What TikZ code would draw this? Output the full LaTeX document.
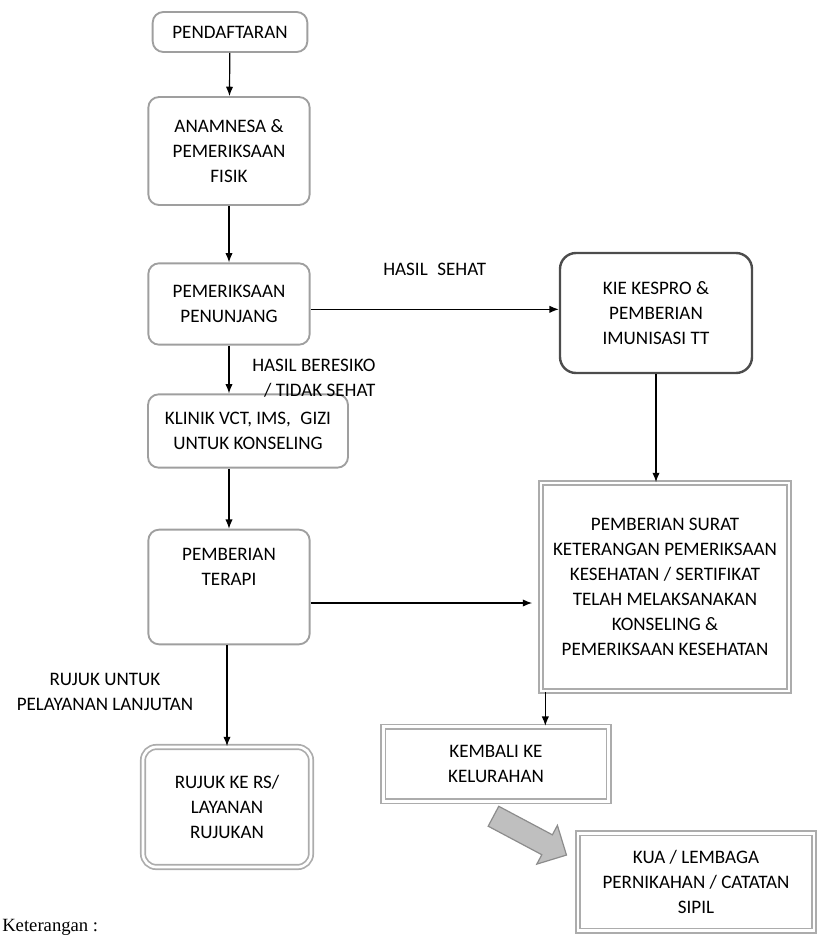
\documentclass[tikz,border=0pt]{standalone}
\usepackage{fontspec}
\setmainfont{Carlito}
\newfontfamily\notefont{Liberation Serif}
\usetikzlibrary{arrows.meta,shapes.arrows}

\begin{document}
\begin{tikzpicture}[x=0.75pt, y=-0.75pt,
    >={Latex[length=7pt,width=5.5pt]},
    every node/.style={font=\fontsize{14.3}{18.7}\selectfont},
    rbox/.style={rectangle, draw=gray!75, line width=1.4pt, rounded corners=8pt, align=center, inner sep=2pt},
    kbox/.style={rbox, draw=black!70, line width=1.8pt, rounded corners=12pt},
    dbox/.style={rectangle, draw=gray!65, double=white, double distance=2pt, line width=1.3pt, align=center, inner sep=2pt},
    lbl/.style={inner sep=1pt}]
    \useasboundingbox (0,0) rectangle (819,935);

    \node[rbox, minimum width=116pt, minimum height=30pt] (daftar) at (230,32) {PENDAFTARAN};
    \node[rbox, minimum width=121pt, minimum height=81pt] (anam) at (229,151) {ANAMNESA \&\\PEMERIKSAAN\\FISIK};
    \node[rbox, minimum width=121pt, minimum height=61pt] (penunjang) at (229,304) {PEMERIKSAAN\\PENUNJANG};
    \node[kbox, minimum width=144pt, minimum height=90pt] (kie) at (656,313) {KIE KESPRO \&\\PEMBERIAN\\IMUNISASI TT};
    \node[rbox, minimum width=150pt, minimum height=55pt] (klinik) at (248,431) {KLINIK VCT, IMS,\enspace GIZI\\UNTUK KONSELING};
    \node[rbox, minimum width=121pt, minimum height=86pt, text depth=30pt] (terapi) at (229,587) {PEMBERIAN\\TERAPI};
    \node[dbox, minimum width=186pt, minimum height=156pt] (surat) at (665,587) {PEMBERIAN SURAT\\KETERANGAN PEMERIKSAAN\\KESEHATAN / SERTIFIKAT\\TELAH MELAKSANAKAN\\KONSELING \&\\PEMERIKSAAN KESEHATAN};
    \node[dbox, minimum width=169pt, minimum height=56pt] (kembali) at (496,764) {KEMBALI KE\\KELURAHAN};
    \node[dbox, minimum width=177pt, minimum height=73pt] (kua) at (696,882) {KUA / LEMBAGA\\PERNIKAHAN / CATATAN\\SIPIL};
    \node[dbox, rounded corners=10pt, minimum width=126pt, minimum height=90pt] (rujuk) at (227,807) {RUJUK KE RS/\\LAYANAN\\RUJUKAN};

    % block arrow to KUA
    \node[single arrow, draw=gray!90, fill=gray!50, line width=0.9pt, minimum height=62pt,
          text height=7pt, text depth=7pt, inner sep=1pt,
          single arrow head extend=8pt, rotate=-28] (panah) at (525,833) {};

    \draw[->, line width=0.9pt] (daftar) -- (anam);
    \draw[->, line width=0.9pt] (anam) -- (penunjang);
    \draw[->, line width=0.9pt] ([yshift=-4pt]penunjang.east) -- ([yshift=-4pt]penunjang.east -| kie.west)
        node[lbl, pos=0.5, above=24pt] {HASIL\enspace SEHAT};
    \draw[->, line width=0.9pt] (penunjang) -- (penunjang |- klinik.north);
    \node[lbl, align=right, anchor=east] (beresiko) at (377,378) {HASIL BERESIKO\\/ TIDAK SEHAT};
    \draw[->, line width=0.9pt] (klinik.south -| terapi) -- (terapi);
    \draw[->, line width=0.9pt] (kie.south) -- (kie.south |- surat.north);
    \draw[->, line width=0.9pt] ([yshift=-12pt]terapi.east) -- ([yshift=-12pt,xshift=-6pt]terapi.east -| surat.west);
    \draw[->, line width=0.9pt] (terapi.south -| rujuk.north) -- (rujuk.north);
    \node[lbl, align=center] (lanjut) at (105,692) {RUJUK UNTUK\\PELAYANAN LANJUTAN};
    \draw[->, line width=0.9pt] ([xshift=37pt]kembali.north |- surat.south) -- ([xshift=37pt]kembali.north);

    \node[anchor=base west, inner sep=0pt, font=\notefont\fontsize{14}{16}\selectfont] (ket) at (2,931) {Keterangan :};
\end{tikzpicture}
\end{document}
